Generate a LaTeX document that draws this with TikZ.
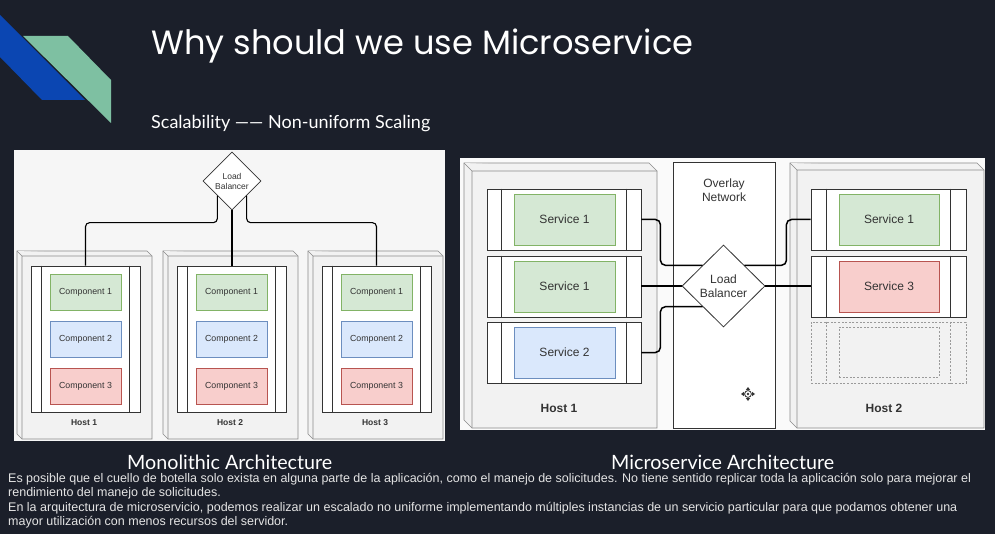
\documentclass[tikz,border=0pt]{standalone}
\usepackage{fontspec}
\setmainfont{Liberation Sans}
\newfontfamily\titlefont{Poppins}
\newfontfamily\latofont{Lato}
\usetikzlibrary{shapes.geometric,calc}
\definecolor{bg}{HTML}{1B1F2A}
\definecolor{logoblue}{HTML}{0B46B2}
\definecolor{logogreen}{HTML}{7EC0A2}
\definecolor{gfill}{HTML}{D5E8D4}
\definecolor{gdraw}{HTML}{82B366}
\definecolor{bfill}{HTML}{DAE8FC}
\definecolor{bdraw}{HTML}{6C8EBF}
\definecolor{rfill}{HTML}{F8CECC}
\definecolor{rdraw}{HTML}{B85450}
\definecolor{ink}{HTML}{333333}
\definecolor{panel}{HTML}{F6F6F6}
\definecolor{panelb}{HTML}{FAFAFA}
\definecolor{hostfill}{HTML}{F2F2F2}
\definecolor{hostline}{HTML}{8A8A8A}
\definecolor{dashline}{HTML}{9A9A9A}
\definecolor{txt}{HTML}{E4E4E4}
\newcommand\cubeshape[5]{%
  \filldraw[hostbox] (#1,#2) -- (#3-#5,#2) -- (#3,#2+#5) -- (#3,#4) -- (#1+#5,#4) -- (#1,#4-#5) -- cycle;
  \draw[hostbox] (#1,#2) -- (#1+#5,#2+#5) -- (#3,#2+#5) (#1+#5,#2+#5) -- (#1+#5,#4);}
\begin{document}
\begin{tikzpicture}[x=1pt,y=-1pt,
  hostbox/.style={draw=hostline,fill=hostfill,line width=0.6pt},
  appbox/.style={draw=ink,fill=white,line width=0.8pt,inner sep=0pt},
  appline/.style={draw=ink,line width=0.8pt},
  comp/.style={inner sep=0pt,minimum width=71pt,minimum height=36pt,line width=0.6pt,text=ink,font=\fontsize{8.8}{10}\selectfont},
  svc/.style={inner sep=0pt,minimum height=51pt,line width=0.6pt,text=ink,font=\fontsize{12}{14}\selectfont},
  gcomp/.style={fill=gfill,draw=gdraw},
  bcomp/.style={fill=bfill,draw=bdraw},
  rcomp/.style={fill=rfill,draw=rdraw},
  rowbox/.style={draw=ink,fill=white,line width=0.8pt,inner sep=0pt,minimum height=61pt},
  dashbox/.style={draw=dashline,line width=0.6pt,dash pattern=on 2pt off 1.6pt},
  lbsmall/.style={diamond,draw=ink,fill=white,line width=0.7pt,inner sep=0pt,minimum width=58pt,minimum height=58pt,align=center,text=ink,font=\fontsize{8.5}{10}\selectfont},
  lbbig/.style={diamond,draw=ink,fill=white,line width=0.8pt,inner sep=0pt,minimum width=83pt,minimum height=82pt,align=center,text=ink,font=\fontsize{12}{14.5}\selectfont},
  conn/.style={draw=black,line width=1.1pt,rounded corners=4pt},
  conntwo/.style={draw=black,line width=1.5pt,rounded corners=5pt},
  hostlabel/.style={text=ink,font=\bfseries\fontsize{8.5}{10}\selectfont},
  hostlabelbig/.style={text=ink,font=\bfseries\fontsize{12}{14}\selectfont},
  caption/.style={anchor=base west,inner sep=0pt,text=white,text depth=0pt},
  para/.style={anchor=base west,inner sep=0pt,text=txt,font=\fontsize{12.5}{14}\selectfont}]
\fill[bg] (0,0) rectangle (995,534);
\useasboundingbox (0,0) rectangle (995,534);
% logo
\fill[logoblue] (0,15) -- (85,100) -- (42,100) -- (0,57) -- cycle;
\fill[logogreen] (23,36) -- (68,36) -- (111,80) -- (111,123) -- cycle;
% titles
\node[anchor=base west,inner sep=0pt,text=white] (title) at (151,55) {\resizebox{542pt}{!}{\titlefont Why should we use Microservice}};
\node[anchor=base west,inner sep=0pt,text=white] (sub) at (151,129) {\resizebox{279pt}{!}{\latofont Scalability —— Non-uniform Scaling}};
% panels
\fill[panel] (14,150) rectangle (445,441);
\fill[panelb] (460,158) rectangle (985,430);
% monolithic hosts
\foreach \i/\x in {1/17,2/163,3/308} {
  \cubeshape{\x}{251}{\x+135}{439}{5}
  \node[appbox,minimum width=109pt,minimum height=146pt] (app\i) at (\x+68.5,339) {};
  \draw[appline] ([xshift=11pt]app\i.north west) -- ([xshift=11pt]app\i.south west)
                 ([xshift=-11pt]app\i.north east) -- ([xshift=-11pt]app\i.south east);
  \node[comp,gcomp] (comp\i-1) at (\x+68.5,292) {Component 1};
  \node[comp,bcomp] (comp\i-2) at (\x+68.5,339) {Component 2};
  \node[comp,rcomp] (comp\i-3) at (\x+68.5,386) {Component 3};
  \node[hostlabel] (mhost\i) at (\x+67,423) {Host \i};
}
\node[lbsmall] (lb1) at (232,181) {Load\\Balancer};
\draw[conn] (lb1.south west) -- ++(0,27) -| (app1.north);
\draw[conn] (lb1.south) -- (lb1.south |- app2.north);
\draw[conn] (lb1.south east) -- ++(0,27) -| (app3.north);
% microservice hosts
\cubeshape{464}{163}{657}{428}{8}
\cubeshape{790}{163}{984}{428}{7}
\node[draw=ink,fill=white,line width=0.8pt,inner sep=0pt,minimum width=102pt,minimum height=266pt] (ovl) at (724,295) {};
\node[text=ink,align=center,font=\fontsize{12}{14}\selectfont] (ovltext) at (724,190) {Overlay\\Network};
% host 1 rows
\foreach \j/\y in {1/219.5,2/286.5,3/352.5} {
  \node[rowbox,minimum width=154pt] (r\j) at (564,\y) {};
  \draw[appline] ([xshift=15pt]r\j.north west) -- ([xshift=15pt]r\j.south west)
                 ([xshift=-15pt]r\j.north east) -- ([xshift=-15pt]r\j.south east);
}
\node[svc,gcomp,minimum width=101pt] (s1) at (564.5,219.5) {Service 1};
\node[svc,gcomp,minimum width=101pt] (s2) at (564.5,286.5) {Service 1};
\node[svc,bcomp,minimum width=101pt] (s3) at (564.5,352.5) {Service 2};
% host 2 rows
\foreach \j/\y in {1/219.5,2/286.5} {
  \node[rowbox,minimum width=155pt] (q\j) at (888.5,\y) {};
  \draw[appline] ([xshift=16pt]q\j.north west) -- ([xshift=16pt]q\j.south west)
                 ([xshift=-16pt]q\j.north east) -- ([xshift=-16pt]q\j.south east);
}
\node[svc,gcomp,minimum width=100pt] (t1) at (889,219.5) {Service 1};
\node[svc,rcomp,minimum width=100pt] (t2) at (889,286.5) {Service 3};
\node[dashbox,inner sep=0pt,minimum width=155pt,minimum height=61pt] (q3) at (888.5,352.5) {};
\draw[dashbox] ([xshift=16pt]q3.north west) -- ([xshift=16pt]q3.south west)
               ([xshift=-16pt]q3.north east) -- ([xshift=-16pt]q3.south east);
\node[dashbox,inner sep=0pt,minimum width=100pt,minimum height=50pt] (t3) at (889,352) {};
\node[hostlabelbig] (nhost1) at (559,408) {Host 1};
\node[hostlabelbig] (nhost2) at (884,408) {Host 2};
% load balancer
\node[lbbig] (lb2) at (723.5,286) {Load\\Balancer};
\draw[conntwo] (r1.east) -- ++(19,0) |- (lb2.north west);
\draw[conntwo] (lb2.west) -- (lb2.west -| r2.east);
\draw[conntwo] (r3.east) -- ++(19,0) |- (lb2.south west);
\draw[conntwo] (lb2.north east) -- ++(42,0) |- (q1.west);
\draw[conntwo] (lb2.east) -- (lb2.east -| q2.west);
% cursor icon
\coordinate (cur) at (748,394);
\draw[ink,line width=0.8pt] (cur) circle (3.4pt);
\fill[ink] (cur) circle (1.3pt);
\fill[ink] ($(cur)+(0,-7)$) -- ++(-2.2,3) -- ++(4.4,0) -- cycle;
\fill[ink] ($(cur)+(0,7)$) -- ++(-2.2,-3) -- ++(4.4,0) -- cycle;
\fill[ink] ($(cur)+(-7,0)$) -- ++(3,-2.2) -- ++(0,4.4) -- cycle;
\fill[ink] ($(cur)+(7,0)$) -- ++(-3,-2.2) -- ++(0,4.4) -- cycle;
% captions
\node[caption] (cap1) at (127,469) {\resizebox{205pt}{!}{\latofont Monolithic Architecture}};
\node[caption] (cap2) at (611,469) {\resizebox{223pt}{!}{\latofont Microservice Architecture}};
% paragraph
\node[para] (p1) at (8,482) {Es posible que el cuello de botella solo exista en alguna parte de la aplicación, como el manejo de solicitudes. No tiene sentido replicar toda la aplicación solo para mejorar el};
\node[para] (p2) at (8,496.5) {rendimiento del manejo de solicitudes.};
\node[para] (p3) at (8,511) {En la arquitectura de microservicio, podemos realizar un escalado no uniforme implementando múltiples instancias de un servicio particular para que podamos obtener una};
\node[para] (p4) at (8,525.5) {mayor utilización con menos recursos del servidor.};
\end{tikzpicture}
\end{document}
